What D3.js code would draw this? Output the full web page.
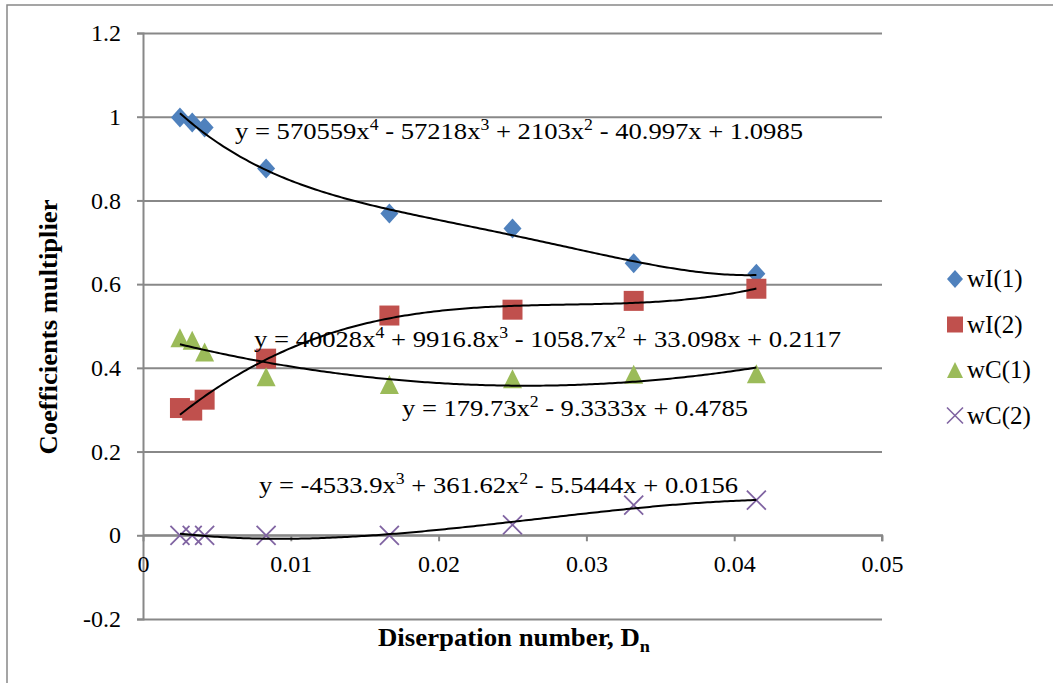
<!DOCTYPE html>
<html>
<head>
<meta charset="utf-8">
<script src="https://cdn.jsdelivr.net/npm/d3@7"></script>
<style>
  body { margin: 0; background: #fff; }
  svg text { font-family: "Liberation Serif", "Times New Roman", serif; fill: #000; }
</style>
</head>
<body>
<svg width="1053" height="683"></svg>
<script>
const dispNumbers = [0.0025, 0.00333, 0.00417, 0.00833, 0.01667, 0.025, 0.0332, 0.0415];
const wI1 = [0.998, 0.986, 0.974, 0.876, 0.769, 0.733, 0.650, 0.625];
const wI2 = [0.304, 0.298, 0.324, 0.422, 0.525, 0.539, 0.560, 0.589];
const wC1 = [0.472, 0.466, 0.438, 0.379, 0.360, 0.374, 0.385, 0.386];
const wC2 = [0, 0, 0, 0, 0, 0.025, 0.072, 0.084];
const seriesNames = ["wI(1)", "wI(2)", "wC(1)", "wC(2)"];
const colors = ["#4F81BD", "#C0504D", "#9BBB59", "#8064A2"];
const xTicks = [0, 0.01, 0.02, 0.03, 0.04, 0.05];
const xTickLabels = ["0", "0.01", "0.02", "0.03", "0.04", "0.05"];
const yTicks = [-0.2, 0, 0.2, 0.4, 0.6, 0.8, 1, 1.2];
const yTickLabels = ["-0.2", "0", "0.2", "0.4", "0.6", "0.8", "1", "1.2"];

// polynomial trendline coefficients, highest power first (as printed on the chart)
const trendCoefs = [
  [570559, -57218, 2103, -40.997, 1.0985],
  [40028, 9916.8, -1058.7, 33.098, 0.2117],
  [179.73, -9.3333, 0.4785],
  [-4533.9, 361.62, -5.5444, 0.0156]
];
const trendLabels = [
  "y = 570559x^4 - 57218x^3 + 2103x^2 - 40.997x + 1.0985",
  "y = 40028x^4 + 9916.8x^3 - 1058.7x^2 + 33.098x + 0.2117",
  "y = 179.73x^2 - 9.3333x + 0.4785",
  "y = -4533.9x^3 + 361.62x^2 - 5.5444x + 0.0156"
];
const labelPos = [[235, 139], [254, 347], [402, 416], [259, 493]];
const labelLen = [568, 587, 346, 479];

const svg = d3.select("svg");
const x = d3.scaleLinear().domain([0, 0.05]).range([143, 882]);
const y = d3.scaleLinear().domain([-0.2, 1.2]).range([619, 33]);
const gridColor = "#888888";

// outer chart border
svg.append("rect")
  .attr("x", 7).attr("y", 5).attr("width", 1100).attr("height", 720)
  .attr("fill", "none").attr("stroke", gridColor).attr("stroke-width", 1.5);

// horizontal gridlines + y axis
const yAxis = d3.axisLeft(y).tickValues(yTicks).tickSize(6)
  .tickFormat((d, i) => yTickLabels[i]);
const gy = svg.append("g").attr("transform", "translate(143,0)").call(yAxis);
gy.select(".domain").attr("stroke", gridColor).attr("stroke-width", 2);
gy.selectAll(".tick line").attr("stroke", gridColor).attr("stroke-width", 2);
gy.selectAll(".tick text").attr("x", -22).attr("font-size", 24);
gy.selectAll(".tick").append("line")
  .attr("x1", 0).attr("x2", 882 - 143)
  .attr("stroke", gridColor).attr("stroke-width", 2);

// x axis sits at y = 0
const xAxis = d3.axisBottom(x).tickValues(xTicks).tickSize(6)
  .tickFormat((d, i) => xTickLabels[i]);
const gx = svg.append("g").attr("transform", `translate(0,${y(0)})`).call(xAxis);
gx.select(".domain").attr("stroke", gridColor).attr("stroke-width", 2).attr("d", `M143,0H882V6`);
gx.selectAll(".tick line").attr("stroke", gridColor).attr("stroke-width", 2);
gx.selectAll(".tick text").attr("y", 20).attr("font-size", 24);

// markers
function markerPath(i, s) {
  const h = s / 2;
  if (i === 0) return `M0,${-h - 1}L${h},0L0,${h + 1}L${-h},0Z`;
  if (i === 1) return `M${-h},${-h}H${h}V${h}H${-h}Z`;
  if (i === 2) return `M0,${-h}L${h},${h}H${-h}Z`;
  return `M${-h},${-h}L${h},${h}M${-h},${h}L${h},${-h}`;
}
const markerSize = [18, 20, 19, 19];

const seriesData = [wI1, wI2, wC1, wC2];
seriesData.forEach((vals, i) => {
  svg.append("g").selectAll("path")
    .data(vals.map((v, j) => [dispNumbers[j], v]))
    .enter().append("path")
    .attr("transform", d => `translate(${x(d[0])},${y(d[1])})`)
    .attr("d", markerPath(i, markerSize[i]))
    .attr("fill", i === 3 ? "none" : colors[i])
    .attr("stroke", i === 3 ? colors[i] : "none")
    .attr("stroke-width", 1.8);
});

// trendlines
const poly = (c, v) => c.reduce((acc, k) => acc * v + k, 0);
const x0 = d3.min(dispNumbers), x1 = d3.max(dispNumbers);
const samples = d3.range(0, 201).map(i => x0 + (x1 - x0) * i / 200);
const line = d3.line().x(d => x(d[0])).y(d => y(d[1]));

trendCoefs.forEach(c => {
  svg.append("path")
    .datum(samples.map(v => [v, poly(c, v)]))
    .attr("d", line)
    .attr("fill", "none").attr("stroke", "#000").attr("stroke-width", 2);
});

// equation labels with superscripts
trendLabels.forEach((lbl, i) => {
  const t = svg.append("text")
    .attr("x", labelPos[i][0]).attr("y", labelPos[i][1])
    .attr("font-size", 24)
    .attr("textLength", labelLen[i]).attr("lengthAdjust", "spacingAndGlyphs");
  let raised = false;
  lbl.split(/(\^\d)/).forEach(part => {
    if (part.startsWith("^")) {
      t.append("tspan").attr("font-size", 16).attr("dy", -9).text(part.slice(1));
      raised = true;
    } else if (part.length) {
      t.append("tspan").attr("dy", raised ? 9 : 0).text(part);
      raised = false;
    }
  });
});

// legend
const legendY = [279, 324.5, 370, 415.5];
seriesNames.forEach((name, i) => {
  const lg = svg.append("g").attr("transform", `translate(955,${legendY[i]})`);
  lg.append("path")
    .attr("d", markerPath(i, 16))
    .attr("fill", i === 3 ? "none" : colors[i])
    .attr("stroke", i === 3 ? colors[i] : "none")
    .attr("stroke-width", 1.6);
  lg.append("text").attr("x", 12).attr("y", 8).attr("font-size", 25).text(name);
});

// axis titles
svg.append("text")
  .attr("transform", "translate(57,327) rotate(-90)")
  .attr("text-anchor", "middle")
  .attr("font-size", 25).attr("font-weight", "bold")
  .attr("textLength", 255).attr("lengthAdjust", "spacingAndGlyphs")
  .text("Coefficients multiplier");

const xt = svg.append("text")
  .attr("x", 378).attr("y", 646)
  .attr("font-size", 25).attr("font-weight", "bold")
  .attr("textLength", 272).attr("lengthAdjust", "spacingAndGlyphs");
xt.append("tspan").text("Diserpation number, D");
xt.append("tspan").attr("font-size", 17).attr("dy", 6).text("n");
</script>
</body>
</html>
